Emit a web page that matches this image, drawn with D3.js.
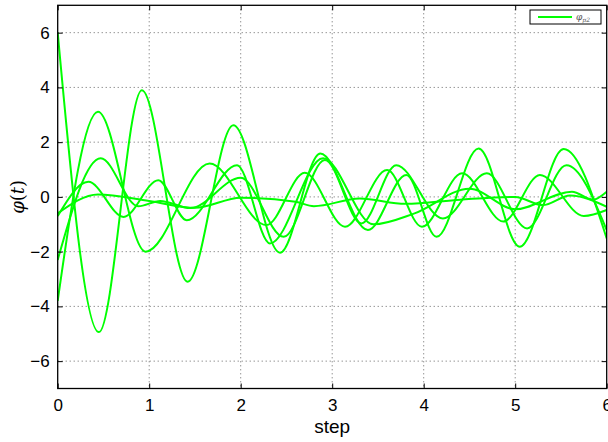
<!DOCTYPE html>
<html><head><meta charset="utf-8">
<script src="https://cdn.jsdelivr.net/npm/d3@7"></script>
<style>body{margin:0;background:#fff}</style>
</head><body>
<svg id="c" width="608" height="442"></svg>
<script>
// extrema / key points, [step, value]
const seriesA = [[0,6],[0.45,-4.94],[0.92,3.9],[1.42,-3.1],[1.92,2.62],[2.43,-2.04],[2.87,1.59],[3.39,-1.21],[3.81,0.80],[4.14,-1.46],[4.60,1.77],[5.05,-1.82],[5.53,1.75],[6.0,-1.52]];
const seriesB = [[0,-3.8],[0.44,3.11],[0.96,-2.0],[1.66,1.22],[2.28,-1.03],[2.70,0.88],[3.14,-1.09],[3.60,0.98],[3.98,-1.09],[4.42,0.86],[4.87,-0.9],[5.27,0.80],[5.75,-0.7],[6.0,-0.48]];
const seriesC = [[0,-2.3],[0.47,1.41],[0.88,-0.34],[1.12,-0.15],[1.45,-0.41],[2.0,0.7],[2.47,-1.46],[2.92,1.35],[3.32,-0.97],[3.70,1.16],[4.21,-0.79],[4.69,0.86],[5.13,-1.15],[5.56,1.16],[6.0,-1.21]];
const seriesD = [[0,-0.7],[0.335,0.55],[0.72,-0.73],[1.10,0.61],[1.41,-0.85],[1.96,1.16],[2.32,-1.7],[2.90,1.41],[3.45,-1.0],[3.9,-0.6],[4.5,0.3],[5.0,-0.45],[5.62,0.19],[5.85,-0.1],[6.0,0.19]];
const seriesE = [[0,-0.6],[0.44,0.09],[1.0,-0.15],[1.5,-0.4],[2.0,-0.03],[2.6,-0.18],[2.8,-0.34],[3.3,-0.06],[3.8,-0.25],[4.4,-0.1],[5.0,0.0],[5.3,-0.3],[5.6,0.05],[6.0,-0.36]];
const allSeries = [seriesA, seriesB, seriesC, seriesD, seriesE];
const xTicks = [0,1,2,3,4,5,6];
const yTicks = [-6,-4,-2,0,2,4,6];
const legendLabel = "φ";
const legendSub = "p2";

const svg = d3.select("#c");
const L = 57.7, R = 606.7, T = 5.3, B = 388.5;
const x = d3.scaleLinear().domain([0,6]).range([L,R]);
const y = d3.scaleLinear().domain([-7,7]).range([B,T]);
const font = "'Liberation Sans', Arial, sans-serif";

// grid
const g = svg.append("g");
g.selectAll(".gx").data(xTicks.slice(1,-1)).join("line")
  .attr("x1", d=>x(d)).attr("x2", d=>x(d)).attr("y1", T).attr("y2", B)
  .attr("stroke", "#666").attr("stroke-width", 1).attr("stroke-dasharray", "1,3");
g.selectAll(".gy").data(yTicks).join("line")
  .attr("y1", d=>y(d)).attr("y2", d=>y(d)).attr("x1", L).attr("x2", R)
  .attr("stroke", "#666").attr("stroke-width", 1).attr("stroke-dasharray", "1,3");

// curves
const line = d3.line().x(d=>x(d[0])).y(d=>y(d[1])).curve(d3.curveMonotoneX);
const clip = svg.append("clipPath").attr("id","cp").append("rect")
  .attr("x", L).attr("y", T).attr("width", R-L).attr("height", B-T);
svg.append("g").attr("clip-path","url(#cp)").selectAll("path").data(allSeries).join("path")
  .attr("d", line).attr("fill","none").attr("stroke","#00ff00").attr("stroke-width",2);

// axes (MATLAB box with inward ticks)
const axB = d3.axisBottom(x).tickValues(xTicks).tickSize(-5).tickPadding(10).tickFormat(d3.format("d"));
const axT = d3.axisTop(x).tickValues(xTicks).tickSize(-5).tickFormat("");
const axL = d3.axisLeft(y).tickValues(yTicks).tickSize(-5).tickPadding(8).tickFormat(d=>d<0?"\u2212"+Math.abs(d):d);
const axR = d3.axisRight(y).tickValues(yTicks).tickSize(-5).tickFormat("");
function style(sel){
  sel.selectAll(".domain").attr("stroke","#000").attr("stroke-width",1.3);
  sel.selectAll(".tick line").attr("stroke","#000").attr("stroke-width",1);
  sel.selectAll(".tick text").attr("fill","#000").style("font-family",font).style("font-size","17px");
}
svg.append("g").attr("transform",`translate(0,${B})`).call(axB).call(style);
svg.append("g").attr("transform",`translate(0,${T})`).call(axT).call(style);
svg.append("g").attr("transform",`translate(${L},0)`).call(axL).call(style);
svg.append("g").attr("transform",`translate(${R},0)`).call(axR).call(style);
svg.selectAll(".domain").attr("d", null);
svg.append("rect").attr("x",L).attr("y",T).attr("width",R-L).attr("height",B-T)
  .attr("fill","none").attr("stroke","#000").attr("stroke-width",1.3);

// axis labels
svg.append("text").attr("x", (L+R)/2).attr("y", 433).attr("text-anchor","middle")
  .style("font-family",font).style("font-size","19px").text("step");
const yl = svg.append("text").attr("transform",`translate(24,${(T+B)/2}) rotate(-90)`)
  .attr("text-anchor","middle").style("font-family","'DejaVu Serif', serif").style("font-size","18px");
yl.append("tspan").style("font-style","italic").text("φ");
yl.append("tspan").text("(");
yl.append("tspan").style("font-style","italic").text("t");
yl.append("tspan").text(")");

// legend
const lg = svg.append("g");
lg.append("rect").attr("x",530).attr("y",10).attr("width",71).attr("height",14)
  .attr("fill","#fff").attr("stroke","#000").attr("stroke-width",1);
lg.append("line").attr("x1",538).attr("x2",572).attr("y1",17).attr("y2",17)
  .attr("stroke","#00ff00").attr("stroke-width",2);
const lt = lg.append("text").attr("x",576).attr("y",20).style("font-family","'DejaVu Serif', serif")
  .style("font-size","9px").attr("fill","#555");
lt.append("tspan").style("font-style","italic").text(legendLabel);
lt.append("tspan").attr("dy",2).style("font-size","6px").style("font-style","italic").text(legendSub);
</script>
</body></html>
